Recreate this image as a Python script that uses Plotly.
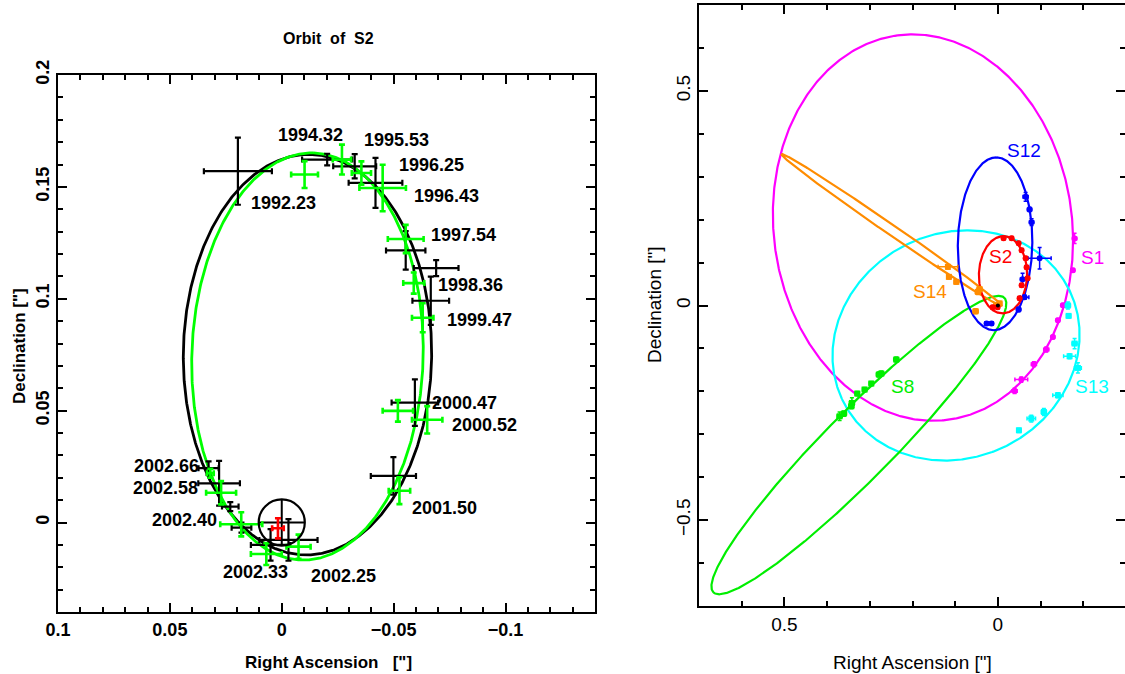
import numpy as np
import plotly.graph_objects as go

# ---------------- Left panel: Orbit of S2 ----------------
blk_ra   = [0.0196, -0.0203, -0.0326, -0.0419, -0.0554, -0.0690, -0.0666, -0.0595, -0.0499, -0.0030, 0.0050, 0.0180, 0.0230, 0.0280, 0.0327]
blk_dec  = [0.1570, 0.1622, 0.1592, 0.1518, 0.1216, 0.1137, 0.0991, 0.0536, 0.0208, -0.0078, -0.0100, -0.0023, 0.0071, 0.0175, 0.0243]
blk_era  = [0.0152, 0.0112, 0.0096, 0.0120, 0.0088, 0.0100, 0.0082, 0.0104, 0.0101, 0.0130, 0.0088, 0.0044, 0.0037, 0.0093, 0.0045]
blk_edec = [0.0150, 0.0026, 0.0054, 0.0112, 0.0086, 0.0036, 0.0108, 0.0104, 0.0084, 0.0093, 0.0070, 0.0022, 0.0020, 0.0100, 0.0030]

grn_ra   = [-0.0102, -0.0269, -0.0356, -0.0451, -0.0554, -0.0590, -0.0630, -0.0519, -0.0650, -0.0526, 0.0319, 0.0271, 0.0181, 0.0069, -0.0075]
grn_dec  = [0.1555, 0.1622, 0.1562, 0.1495, 0.1267, 0.1070, 0.0915, 0.0499, 0.0459, 0.0142, 0.0220, 0.0133, -0.0008, -0.0141, -0.0108]
grn_era  = [0.0060, 0.0041, 0.0043, 0.0104, 0.0080, 0.0047, 0.0048, 0.0068, 0.0068, 0.0048, 0.0015, 0.0067, 0.0094, 0.0069, 0.0054]
grn_edec = [0.0060, 0.0067, 0.0052, 0.0104, 0.0063, 0.0047, 0.0065, 0.0048, 0.0061, 0.0060, 0.0020, 0.0052, 0.0054, 0.0049, 0.0054]

red_ra, red_dec, red_era, red_edec = [0.0017], [-0.0026], [0.0026], [0.0045]

sgra_ra, sgra_dec, sgra_r = [0.0], [0.0], [0.0103]

epoch_text = ["1994.32", "1995.53", "1996.25", "1996.43", "1997.54", "1998.36", "1999.47", "1992.23",
              "2000.47", "2000.52", "2001.50", "2002.66", "2002.58", "2002.40", "2002.33", "2002.25"]
epoch_ra   = [0.0021, -0.0362, -0.0518, -0.0585, -0.0661, -0.0695, -0.0733, 0.0140,
              -0.0666, -0.0755, -0.0579, 0.0663, 0.0668, 0.0583, 0.0269, -0.0128]
epoch_dec  = [0.1734, 0.1708, 0.1596, 0.1458, 0.1286, 0.1060, 0.0906, 0.1430,
              0.0534, 0.0436, 0.0064, 0.0253, 0.0153, 0.0011, -0.0220, -0.0238]

# orbit ellipses: [centre RA, centre Dec, semi-major, semi-minor, position angle deg]
orbit_black = [-0.0115, 0.0750, 0.0895, 0.0555, 90.6]
orbit_green = [-0.0115, 0.0742, 0.0910, 0.0517, 91.7]

left_xticks = [0.1, 0.05, 0.0, -0.05, -0.1]
left_xlabels = ["0.1", "0.05", "0", "\u22120.05", "\u22120.1"]
left_yticks = [0.0, 0.05, 0.1, 0.15, 0.2]
left_ylabels = ["0", "0.05", "0.1", "0.15", "0.2"]

# ---------------- Right panel: several S-stars ----------------
stars  = ["S1", "S2", "S8", "S12", "S13", "S14"]
colors = {"S1": "#ff00ff", "S2": "#ff0000", "S8": "#00ee00", "S12": "#0000ff", "S13": "#00ffff", "S14": "#ff8c00"}
orbits = {
    "S1":  [0.1755, 0.1815, 0.4516, 0.3495, 82.4],
    "S13": [0.0980, -0.0930, 0.2950, 0.2620, -25.0],
    "S8":  [0.3256, -0.3251, 0.4835, 0.0793, -45.2],
    "S14": [0.2495, 0.1763, 0.3120, 0.0120, 34.4],
    "S12": [0.0066, 0.1437, 0.2013, 0.0872, 91.0],
    "S2":  [-0.0120, 0.0715, 0.0900, 0.0565, 91.0],
}
s1_ra   = [-0.1796, -0.1756, -0.1522, -0.1405, -0.1288, -0.1133, -0.0843, -0.0548, -0.0391]
s1_dec  = [0.1562, 0.0823, 0.0007, -0.0343, -0.0732, -0.1026, -0.1368, -0.1725, -0.1990]
s1_era  = [0.005, 0.004, 0.004, 0.004, 0.004, 0.006, 0.006, 0.015, 0.006]
s1_edec = [0.012, 0.004, 0.004, 0.004, 0.004, 0.006, 0.006, 0.006, 0.006]

s2_ra   = [-0.0133, -0.0321, -0.0485, -0.0555, -0.0649, -0.0672, -0.0696, -0.0555, -0.0508, 0.0124, 0.0007]
s2_dec  = [0.1569, 0.1569, 0.1452, 0.1289, 0.1103, 0.0893, 0.0636, 0.0473, 0.0170, -0.0040, -0.0040]
s2_era  = [0.004] * 11
s2_edec = [0.004] * 11

s8_ra   = [0.2380, 0.2731, 0.2787, 0.2965, 0.3122, 0.3293, 0.3419, 0.3433, 0.3606, 0.3707]
s8_dec  = [-0.1259, -0.1585, -0.1608, -0.1818, -0.1958, -0.2051, -0.2270, -0.2347, -0.2517, -0.2580]
s8_era  = [0.006, 0.006, 0.006, 0.005, 0.005, 0.005, 0.006, 0.006, 0.006, 0.006]
s8_edec = [0.006, 0.006, 0.006, 0.005, 0.005, 0.005, 0.012, 0.006, 0.006, 0.010]

s12_ra   = [-0.0649, -0.0742, -0.0789, -0.0977, -0.0578, -0.0625, -0.0485, 0.0265, 0.0148]
s12_dec  = [0.2531, 0.2238, 0.1942, 0.1103, 0.0613, 0.0193, -0.0093, -0.0420, -0.0420]
s12_era  = [0.006, 0.005, 0.005, 0.027, 0.005, 0.010, 0.005, 0.004, 0.004]
s12_edec = [0.010, 0.005, 0.008, 0.025, 0.014, 0.005, 0.005, 0.004, 0.004]

s13_ra   = [-0.1640, -0.1656, -0.1796, -0.1679, -0.1874, -0.1405, -0.1077, -0.0782, -0.0492]
s13_dec  = [0.0000, -0.0242, -0.0886, -0.1182, -0.1455, -0.2091, -0.2480, -0.2634, -0.2907]
s13_era  = [0.006, 0.005, 0.006, 0.014, 0.008, 0.012, 0.006, 0.010, 0.005]
s13_edec = [0.008, 0.005, 0.012, 0.006, 0.012, 0.006, 0.008, 0.008, 0.005]

s14_ra   = [0.1171, 0.1148, 0.0974, 0.0429, 0.0468, 0.0522, 0.0037, -0.0040]
s14_dec  = [0.0900, 0.0667, 0.0550, 0.0380, 0.0317, -0.0133, 0.0007, 0.0047]
s14_era  = [0.023, 0.005, 0.005, 0.006, 0.006, 0.006, 0.005, 0.005]
s14_edec = [0.005, 0.005, 0.005, 0.006, 0.006, 0.006, 0.005, 0.005]

points = {"S1": (s1_ra, s1_dec, s1_era, s1_edec), "S13": (s13_ra, s13_dec, s13_era, s13_edec),
          "S8": (s8_ra, s8_dec, s8_era, s8_edec), "S14": (s14_ra, s14_dec, s14_era, s14_edec),
          "S12": (s12_ra, s12_dec, s12_era, s12_edec), "S2": (s2_ra, s2_dec, s2_era, s2_edec)}
symbols = {"S1": "circle", "S2": "circle", "S8": "square", "S12": "circle", "S13": "square", "S14": "square"}

star_label_ra  = [-0.2225, -0.0060, 0.2236, -0.0602, -0.2194, 0.1600]
star_label_dec = [0.1120, 0.1133, -0.1880, 0.3600, -0.1880, 0.0317]

right_xticks = [0.5, 0.0]
right_xlabels = ["0.5", "0"]
right_yticks = [-0.5, 0.0, 0.5]
right_ylabels = ["\u22120.5", "0", "0.5"]


def ellipse(p, n=721):
    cx, cy, a, b, th = p
    t = np.linspace(0, 2 * np.pi, n)
    th = np.radians(th)
    ra = cx + a * np.cos(t) * np.cos(th) - b * np.sin(t) * np.sin(th)
    de = cy + a * np.cos(t) * np.sin(th) + b * np.sin(t) * np.cos(th)
    return ra, de


fig = go.Figure()
W, H = 1125, 674
FONT = "Liberation Sans"

# left orbits
for p, col in [(orbit_black, "black"), (orbit_green, "#00ff00")]:
    ra, de = ellipse(p)
    fig.add_trace(go.Scatter(x=ra, y=de, mode="lines", line=dict(color=col, width=2.8),
                             xaxis="x", yaxis="y", hoverinfo="skip", showlegend=False))

# Sgr A* circle + cross
fig.add_shape(type="circle", xref="x", yref="y",
              x0=sgra_ra[0] - sgra_r[0], x1=sgra_ra[0] + sgra_r[0],
              y0=sgra_dec[0] - sgra_r[0], y1=sgra_dec[0] + sgra_r[0],
              line=dict(color="black", width=2.2))
fig.add_trace(go.Scatter(x=sgra_ra, y=sgra_dec, mode="markers", marker=dict(size=1, color="black"),
                         error_x=dict(type="data", array=sgra_r, color="black", thickness=2, width=0),
                         error_y=dict(type="data", array=sgra_r, color="black", thickness=2, width=0),
                         xaxis="x", yaxis="y", showlegend=False))

for ra, de, era, ede, col, th in [(blk_ra, blk_dec, blk_era, blk_edec, "black", 2.2),
                                  (grn_ra, grn_dec, grn_era, grn_edec, "#00ff00", 2.6),
                                  (red_ra, red_dec, red_era, red_edec, "#ff0000", 2.6)]:
    fig.add_trace(go.Scatter(x=ra, y=de, mode="markers", marker=dict(size=1, color=col),
                             error_x=dict(type="data", array=era, color=col, thickness=th, width=3),
                             error_y=dict(type="data", array=ede, color=col, thickness=th, width=3),
                             xaxis="x", yaxis="y", showlegend=False))

for txt, ra, de in zip(epoch_text, epoch_ra, epoch_dec):
    fig.add_annotation(x=ra, y=de, xref="x", yref="y", text="<b>%s</b>" % txt, showarrow=False,
                       xanchor="left", yanchor="middle", borderpad=0,
                       font=dict(family=FONT, size=18, color="black"))

# right panel
for s in ["S1", "S13", "S8", "S14", "S12", "S2"]:
    ra, de = ellipse(orbits[s])
    fig.add_trace(go.Scatter(x=ra, y=de, mode="lines", line=dict(color=colors[s], width=2.2),
                             xaxis="x2", yaxis="y2", hoverinfo="skip", showlegend=False))
for s in ["S1", "S13", "S8", "S14", "S12", "S2"]:
    ra, de, era, ede = points[s]
    fig.add_trace(go.Scatter(x=ra, y=de, mode="markers",
                             marker=dict(size=6, color=colors[s], symbol=symbols[s]),
                             error_x=dict(type="data", array=era, color=colors[s], thickness=1.5, width=2),
                             error_y=dict(type="data", array=ede, color=colors[s], thickness=1.5, width=2),
                             xaxis="x2", yaxis="y2", showlegend=False))
fig.add_trace(go.Scatter(x=[0.0], y=[0.0], mode="markers", marker=dict(size=4, color="black"),
                         xaxis="x2", yaxis="y2", showlegend=False))

for s, ra, de in zip(stars, star_label_ra, star_label_dec):
    fig.add_annotation(x=ra, y=de, xref="x2", yref="y2", text=s, showarrow=False,
                       xanchor="center", yanchor="middle",
                       font=dict(family=FONT, size=19, color=colors[s]))

# titles / axis labels (paper coordinates, explicit anchors)
def ann(xp, yp, text, size, angle=0):
    fig.add_annotation(x=xp / W, y=1 - yp / H, xref="paper", yref="paper", text=text,
                       xanchor="center", yanchor="middle", textangle=angle, showarrow=False,
                       font=dict(family=FONT, size=size, color="black"))

ann(328, 39, "<b>Orbit\u00a0 of\u00a0 S2</b>", 16)
ann(328, 662, "<b>Right Ascension\u00a0\u00a0 [\"]</b>", 17)
ann(19, 346, "<b>Declination [\"]</b>", 17, -90)
ann(912, 662, "Right Ascension [\"]", 19)
ann(654, 305, "Declination [\"]", 19, -90)

common = dict(showline=True, linecolor="black", mirror="allticks", ticks="inside",
              showgrid=False, zeroline=False, tickcolor="black", automargin=False)

fig.update_layout(
    width=W, height=H, margin=dict(l=0, r=0, t=0, b=0, pad=0, autoexpand=False),
    paper_bgcolor="white", plot_bgcolor="white", showlegend=False,
    xaxis=dict(domain=[58 / W, 595 / W], range=[0.1, -0.14], anchor="y",
               tickvals=left_xticks, ticktext=left_xlabels, linewidth=2, ticklen=9, tickwidth=2,
               minor=dict(dtick=0.01, ticks="inside", ticklen=5, tickwidth=2, tickcolor="black"),
               tickfont=dict(family=FONT, size=18, color="black", weight="bold"), **common),
    yaxis=dict(domain=[(H - 612) / H, (H - 75) / H], range=[-0.04, 0.2], anchor="x",
               tickvals=left_yticks, ticktext=left_ylabels, tickangle=-90, linewidth=2, ticklen=9, tickwidth=2,
               minor=dict(dtick=0.01, ticks="inside", ticklen=5, tickwidth=2, tickcolor="black"),
               tickfont=dict(family=FONT, size=18, color="black", weight="bold"), **common),
    xaxis2=dict(domain=[699 / W, 1.0], range=[0.7, 0.7 - (W - 699) / 427.0], anchor="y2",
                tickvals=right_xticks, ticktext=right_xlabels, linewidth=1.5, ticklen=9, tickwidth=1.5,
                minor=dict(dtick=0.1, ticks="inside", ticklen=5, tickwidth=1.5, tickcolor="black"),
                tickfont=dict(family=FONT, size=19, color="black"), **common),
    yaxis2=dict(domain=[(H - 606) / H, (H - 5) / H], range=[-0.7, 0.7], anchor="x2",
                tickvals=right_yticks, ticktext=right_ylabels, tickangle=-90, linewidth=1.5, ticklen=9, tickwidth=1.5,
                minor=dict(dtick=0.1, ticks="inside", ticklen=5, tickwidth=1.5, tickcolor="black"),
                tickfont=dict(family=FONT, size=19, color="black"), **common),
)

fig.write_html("out.html", config={"displayModeBar": False},
               post_script="document.body.style.margin='0';document.body.style.overflow='hidden';")
